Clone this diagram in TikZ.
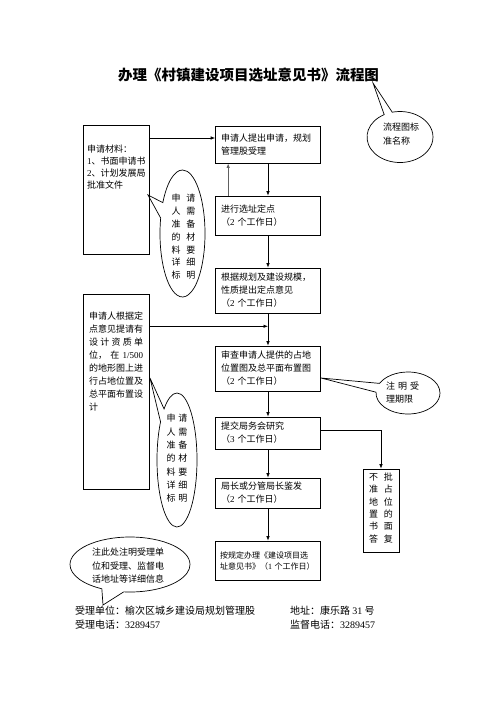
\documentclass[tikz,border=0pt]{standalone}
\usepackage{fontspec}
\setmainfont{Noto Sans CJK SC}
\newfontfamily\lat{Liberation Serif}
\usetikzlibrary{arrows.meta,shapes.callouts,shapes.geometric,calc}
\tikzset{
  box/.style={draw, line width=0.7pt, minimum width=105pt, text width=94pt, align=left, inner sep=0pt, font=\fontsize{9}{13}\selectfont},
  arr/.style={-{Latex[length=4.5pt,width=3.5pt]}, line width=0.7pt},
  bub/.style={ellipse callout, draw, line width=0.7pt, inner sep=0pt},
  txt/.style={inner sep=0pt, font=\fontsize{9}{13}\selectfont, align=left},
}
\begin{document}
\begin{tikzpicture}[x=1pt,y=-1pt]
\useasboundingbox (0,0) rectangle (496,702);
\fill[white] (0,0) rectangle (496,702);
% title
\node[inner sep=0pt, font=\fontsize{14.5}{16}\selectfont\bfseries] (title) at (248.5,75) {办理《村镇建设项目选址意见书》流程图};
% main boxes
\node[box, minimum height=37pt] (A) at (268,144.5) {申请人提出申请，规划\\管理股受理};
\node[box, minimum height=39pt] (B) at (268,215.5) {进行选址定点\\（{\lat 2} 个工作日）};
\node[box, minimum height=45pt] (C) at (268,290.5) {根据规划及建设规模，\\性质提出定点意见\\（{\lat 2} 个工作日）};
\node[box, minimum height=45pt] (D) at (268,368.5) {审查申请人提供的占地\\位置图及总平面布置图\\（{\lat 2} 个工作日）};
\node[box, minimum height=32pt] (E) at (268,433) {提交局务会研究\\（{\lat 3} 个工作日）};
\node[box, minimum height=30pt] (F) at (268,493) {局长或分管局长鉴发\\（{\lat 2} 个工作日）};
\node[box, minimum height=39pt, text width=96pt, font=\fontsize{8}{11}\selectfont] (G) at (268,560.5) {按规定办理《建设项目选\\址意见书》（{\lat 1} 个工作日）};
\node[draw, line width=0.7pt, minimum width=36pt, minimum height=83pt, inner sep=0pt] (H) at (381,510.5) {};
\node[txt, align=center, font=\fontsize{9}{12.3}\selectfont] (Ht) at (381,508) {不\hspace{6pt}批\\准\hspace{6pt}占\\地\hspace{6pt}位\\置\hspace{6pt}的\\书\hspace{6pt}面\\答\hspace{6pt}复};
% left boxes
\node[draw, line width=0.7pt, minimum width=66pt, minimum height=129pt, inner sep=0pt, anchor=north west] (L1) at (83,125) {};
\node[txt, anchor=north west, font=\fontsize{9}{12}\selectfont] (L1t) at (87,145) {申请材料：\\{\lat 1}、书面申请书\\{\lat 2}、计划发展局\\批准文件};
\node[draw, line width=0.7pt, minimum width=66pt, minimum height=195pt, inner sep=0pt, anchor=north west] (L2) at (83,294) {};
\node[txt, anchor=north west] (L2t) at (89,312) {申请人根据定\\点意见提请有\\\makebox[54pt][s]{设\hfill 计\hfill 资\hfill 质\hfill 单}\\\makebox[54pt][s]{位，\hfill 在\hfill {\lat 1/500}}\\的地形图上进\\行占地位置及\\总平面布置设\\计};
% connectors
\coordinate (a1) at ($(A.west)+(0,-6.5)$);
\draw[arr] (a1 -| L1.east) -- (a1);
\draw[arr] (A) -- (B);
\coordinate (g1) at ($(B.north west)+(13,0)$);
\draw[-{Latex[length=4.5pt,width=3.5pt]}, line width=1.3pt, gray!75!black] (g1) -- (g1 |- A.south);
\draw[arr] (B) -- (C);
\draw[arr] (C) -- (D);
\coordinate (m1) at ($(C.south)!0.4!(D.north)$);
\draw[arr] (m1 -| L2.east) -- (m1);
\draw[arr] (D) -- (E);
\draw[arr] (E) -- (F);
\draw[arr] (F) -- (G);
\draw[arr] ($(E.east)+(0,-3)$) -| (H.north);
% bubbles
\node[bub, minimum width=45pt, minimum height=127pt, callout absolute pointer={(148,195)}] (b1) at (182.5,233.5) {};
\node[txt, align=center, font=\fontsize{9}{12.8}\selectfont] (b1t) at (183.5,237) {申\hspace{6pt}请\\人\hspace{6pt}需\\准\hspace{6pt}备\\的\hspace{6pt}材\\料\hspace{6pt}要\\详\hspace{6pt}细\\标\hspace{6pt}明};
\node[bub, minimum width=40pt, minimum height=134pt, callout absolute pointer={(150,378)}] (b2) at (177,460) {};
\node[txt, align=center, font=\fontsize{9}{13.3}\selectfont] (b2t) at (177,458.5) {申\hspace{3pt}请\\人\hspace{3pt}需\\准\hspace{3pt}备\\的\hspace{3pt}材\\料\hspace{3pt}要\\详\hspace{3pt}细\\标\hspace{3pt}明};
\node[bub, minimum width=66pt, minimum height=51pt, callout absolute pointer={(373,83)}] (b3) at (400,137) {};
\node[txt, font=\fontsize{9}{14}\selectfont, anchor=north west] (b3t) at (383,123) {流程图标\\准名称};
\node[bub, minimum width=64pt, minimum height=42pt, callout pointer arc=25, callout absolute pointer={(321,378)}] (b4) at (408,393) {};
\node[txt, font=\fontsize{9}{13}\selectfont, anchor=north west] (b4t) at (386,382) {注\hspace{3pt}明\hspace{3pt}受\\理期限};
\node[bub, minimum width=120pt, minimum height=55pt, callout pointer arc=22, callout absolute pointer={(103,605)}] (b5) at (130,564.5) {};
\node[txt, font=\fontsize{9}{13.5}\selectfont, anchor=north west] (b5t) at (92,548) {注此处注明受理单\\位和受理、监督电\\话地址等详细信息};
% footer
\node[txt, font=\fontsize{10}{14}\selectfont, anchor=north west] (f1) at (75,606) {受理单位：榆次区城乡建设局规划管理股\\受理电话：{\lat 3289457}};
\node[txt, font=\fontsize{10}{14}\selectfont, anchor=north west] (f2) at (290,606) {地址：康乐路 {\lat 31} 号\\监督电话：{\lat 3289457}};
\end{tikzpicture}
\end{document}
